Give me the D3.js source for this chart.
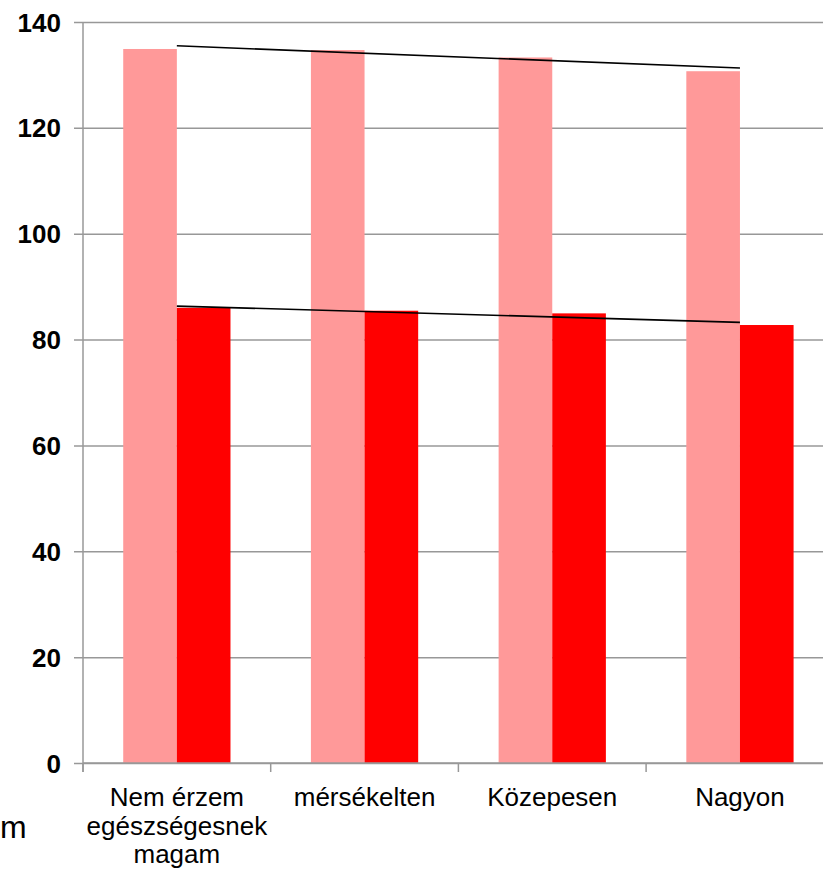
<!DOCTYPE html>
<html>
<head>
<meta charset="utf-8">
<script src="https://cdn.jsdelivr.net/npm/d3@7"></script>
<style>
  html, body { margin: 0; padding: 0; background: #fff; }
  svg { display: block; }
  text { font-family: "Liberation Sans", Arial, sans-serif; fill: #000; }
</style>
</head>
<body>
<svg id="chart" width="823" height="872"></svg>
<script>
// Category labels (multi-line labels split on "\n")
const categories = ["Nem érzem\negészségesnek\nmagam", "mérsékelten", "Közepesen", "Nagyon"];
// Two series per category
const seriesLight = [134.9, 134.7, 133.3, 130.7];
const seriesDark = [86.0, 85.45, 84.95, 82.75];
const yTicks = [0, 20, 40, 60, 80, 100, 120, 140];

const colors = { light: "#FF9999", dark: "#FF0000", grid: "#989898", trend: "#000000" };

const svg = d3.select("#chart");
const plot = { left: 83, right: 833.8, top: 22, bottom: 763 };

const x = d3.scaleBand()
  .domain(categories)
  .range([plot.left, plot.right])
  .paddingInner(0)
  .paddingOuter(0);

// gap width 150% -> each bar is band / 3.5
const barW = x.bandwidth() / 3.5;

const y = d3.scaleLinear().domain([0, 140]).range([plot.bottom, plot.top]);

// Horizontal gridlines with outer tick marks
const yAxis = d3.axisLeft(y)
  .tickValues(yTicks)
  .tickSize(-(plot.right - plot.left))
  .tickSizeOuter(0)
  .tickFormat(d3.format("d"));

const gy = svg.append("g")
  .attr("transform", `translate(${plot.left},0)`)
  .call(yAxis);
gy.select(".domain").remove();
gy.selectAll(".tick line")
  .attr("x1", -9)
  .attr("stroke", colors.grid)
  .attr("stroke-width", 1.5);
gy.selectAll(".tick text")
  .attr("x", -22)
  .attr("dy", "0.35em")
  .style("font-size", "26px")
  .style("font-weight", "bold")
  .style("font-family", "'Liberation Sans', Arial, sans-serif")
  .attr("fill", "#000");

// Vertical axis line
svg.append("line")
  .attr("x1", plot.left).attr("x2", plot.left)
  .attr("y1", plot.top).attr("y2", plot.bottom + 9)
  .attr("stroke", colors.grid).attr("stroke-width", 1.5);

// Bars
const bars = svg.append("g");
categories.forEach((c, i) => {
  const cx = x(c) + x.bandwidth() / 2;
  bars.append("rect")
    .attr("x", cx - barW)
    .attr("y", y(seriesLight[i]))
    .attr("width", barW)
    .attr("height", y(0) - y(seriesLight[i]))
    .attr("fill", colors.light);
  bars.append("rect")
    .attr("x", cx)
    .attr("y", y(seriesDark[i]))
    .attr("width", barW)
    .attr("height", y(0) - y(seriesDark[i]))
    .attr("fill", colors.dark);
});

// Category axis with boundary ticks
svg.append("line")
  .attr("x1", plot.left).attr("x2", plot.right)
  .attr("y1", plot.bottom).attr("y2", plot.bottom)
  .attr("stroke", colors.grid).attr("stroke-width", 1.5);
const bounds = categories.map(c => x(c)).concat([plot.right]);
svg.append("g").selectAll("line").data(bounds).join("line")
  .attr("x1", d => d).attr("x2", d => d)
  .attr("y1", plot.bottom).attr("y2", plot.bottom + 9)
  .attr("stroke", colors.grid).attr("stroke-width", 1.5);

const labels = svg.append("g");
categories.forEach(c => {
  const cx = x(c) + x.bandwidth() / 2;
  const t = labels.append("text")
    .attr("text-anchor", "middle")
    .style("font-size", "26px");
  c.split("\n").forEach((line, k) => {
    t.append("tspan").attr("x", cx).attr("y", 806 + k * 28.5).text(line);
  });
});

// Linear trend lines across category centres
function trend(values) {
  const n = values.length;
  const xs = values.map((_, i) => i);
  const mx = d3.mean(xs), my = d3.mean(values);
  const slope = d3.sum(xs.map((xi, i) => (xi - mx) * (values[i] - my))) / d3.sum(xs.map(xi => (xi - mx) ** 2));
  const b = my - slope * mx;
  return [0, n - 1].map(i => ({ i, v: b + slope * i }));
}
const centre = i => x(categories[i]) + x.bandwidth() / 2;
[seriesLight, seriesDark].forEach(vals => {
  svg.append("path")
    .datum(trend(vals))
    .attr("fill", "none")
    .attr("stroke", colors.trend)
    .attr("stroke-width", 1.6)
    .attr("d", d3.line().x(d => centre(d.i)).y(d => y(d.v)));
});

// Short text at the lower left edge
svg.append("text")
  .attr("x", 0)
  .attr("y", 838)
  .attr("text-anchor", "start")
  .style("font-size", "32px")
  .text("m");
</script>
</body>
</html>
